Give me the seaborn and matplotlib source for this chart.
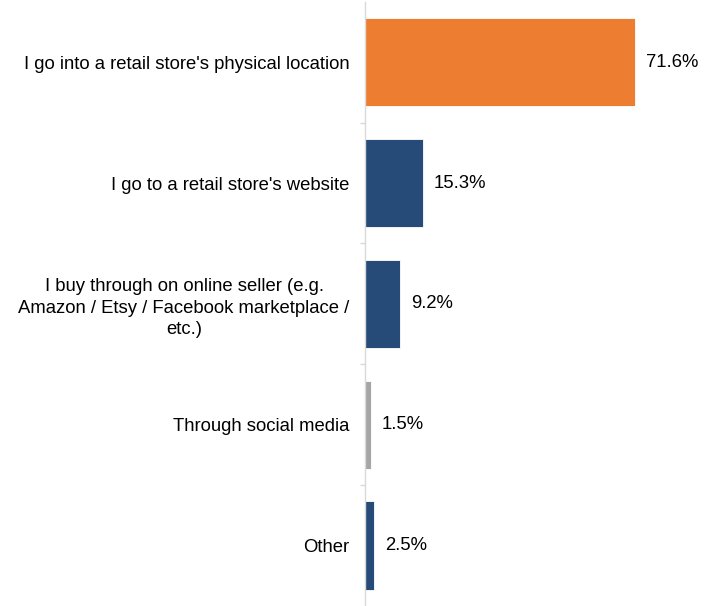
import matplotlib
matplotlib.use("Agg")
import matplotlib.pyplot as plt
import matplotlib.transforms as mtransforms
import seaborn as sns
import pandas as pd

categories = [
    "I go into a retail store's physical location",
    "I go to a retail store's website",
    "I buy through on online seller (e.g.\nAmazon / Etsy / Facebook marketplace /\netc.)",
    "Through social media",
    "Other",
]
values = [71.6, 15.3, 9.2, 1.5, 2.5]
colors = ["#ED7D31", "#264B78", "#264B78", "#A5A5A5", "#264B78"]

df = pd.DataFrame({"category": categories, "value": values})

sns.set_theme(style="white")
plt.rcParams["font.family"] = ["Liberation Sans", "DejaVu Sans"]

fig = plt.figure(figsize=(7.11, 6.06), dpi=100)
ax = fig.add_axes([0.5134, 0.0, 0.477, 0.997])

sns.barplot(data=df, x="value", y="category", hue="category",
            palette=colors, legend=False, width=0.73, ax=ax, saturation=1,
            edgecolor="white", linewidth=0.6)

ax.set_xlim(0, 90)
ax.set_ylim(4.5, -0.5)
ax.set_xlabel("")
ax.set_ylabel("")
ax.set_xticks([])

for s in ["top", "right", "bottom"]:
    ax.spines[s].set_visible(False)
ax.spines["left"].set_color("#D9D9D9")
ax.spines["left"].set_linewidth(1.0)

FS = 13.3
ax.set_yticks(range(len(categories)))
ax.set_yticklabels(categories, fontsize=FS, color="#000000", ha="center",
                   multialignment="center", linespacing=1.35)
ax.tick_params(axis="y", which="major", length=0, pad=0)

# centre multi-line labels on themselves, with right edges near the axis
fig.canvas.draw()
renderer = fig.canvas.get_renderer()
for lbl in ax.get_yticklabels():
    bb = lbl.get_window_extent(renderer)
    w_pts = bb.width * 72 / fig.dpi
    lbl.set_transform(ax.get_yaxis_transform() +
                      mtransforms.ScaledTranslation(-(w_pts / 2 + 11) / 72, 0,
                                                    fig.dpi_scale_trans))

# small separator ticks between categories
ax.set_yticks([i + 0.5 for i in range(len(categories) - 1)], minor=True)
ax.tick_params(axis="y", which="minor", left=True, length=3.5,
               color="#D9D9D9", width=1.0)

for i, v in enumerate(values):
    ax.annotate(f"{v:.1f}%", xy=(v, i), xytext=(8, 0),
                textcoords="offset points", va="center", ha="left",
                fontsize=FS, color="#000000")

fig.savefig("out.png", dpi=100, facecolor="white")
